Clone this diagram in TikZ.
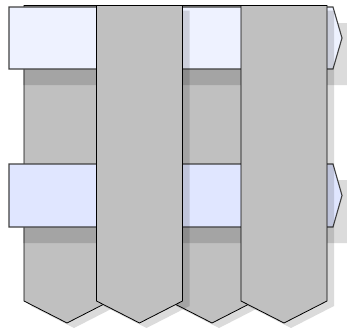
\documentclass[tikz,border=0pt]{standalone}
\usetikzlibrary{shadows}
\definecolor{warpgray}{RGB}{192,192,192}
\definecolor{weftpale}{RGB}{238,242,255}
\definecolor{weftblue}{RGB}{224,230,255}

\begin{document}
\begin{tikzpicture}[x=1pt, y=-1pt,
    warp/.style={draw=black, line width=0.8pt, fill=warpgray,
        drop shadow={shadow xshift=7pt, shadow yshift=-5pt, fill=black, opacity=0.14}},
    weft/.style={draw=black!75, line width=1.1pt,
        drop shadow={shadow xshift=14pt, shadow yshift=-16pt, fill=black, opacity=0.14}}
]
\useasboundingbox (0,0) rectangle (347,327);

% back warp arrows
\foreach \cx in {67,212}
  \filldraw[warp] (\cx-43,5.5) -- (\cx+43,5.5) -- (\cx+43,301) -- (\cx,323) -- (\cx-43,301) -- cycle;

% weft arrows
\filldraw[weft, fill=weftpale] (9,7) -- (333,7) -- (342,38) -- (333,69) -- (9,69) -- cycle;
\filldraw[weft, fill=weftblue] (9,164) -- (333,164) -- (342,195.5) -- (333,227) -- (9,227) -- cycle;

% front warp arrows
\foreach \cx in {139.5,284}
  \filldraw[warp] (\cx-43,5.5) -- (\cx+43,5.5) -- (\cx+43,301) -- (\cx,323) -- (\cx-43,301) -- cycle;
\end{tikzpicture}
\end{document}
